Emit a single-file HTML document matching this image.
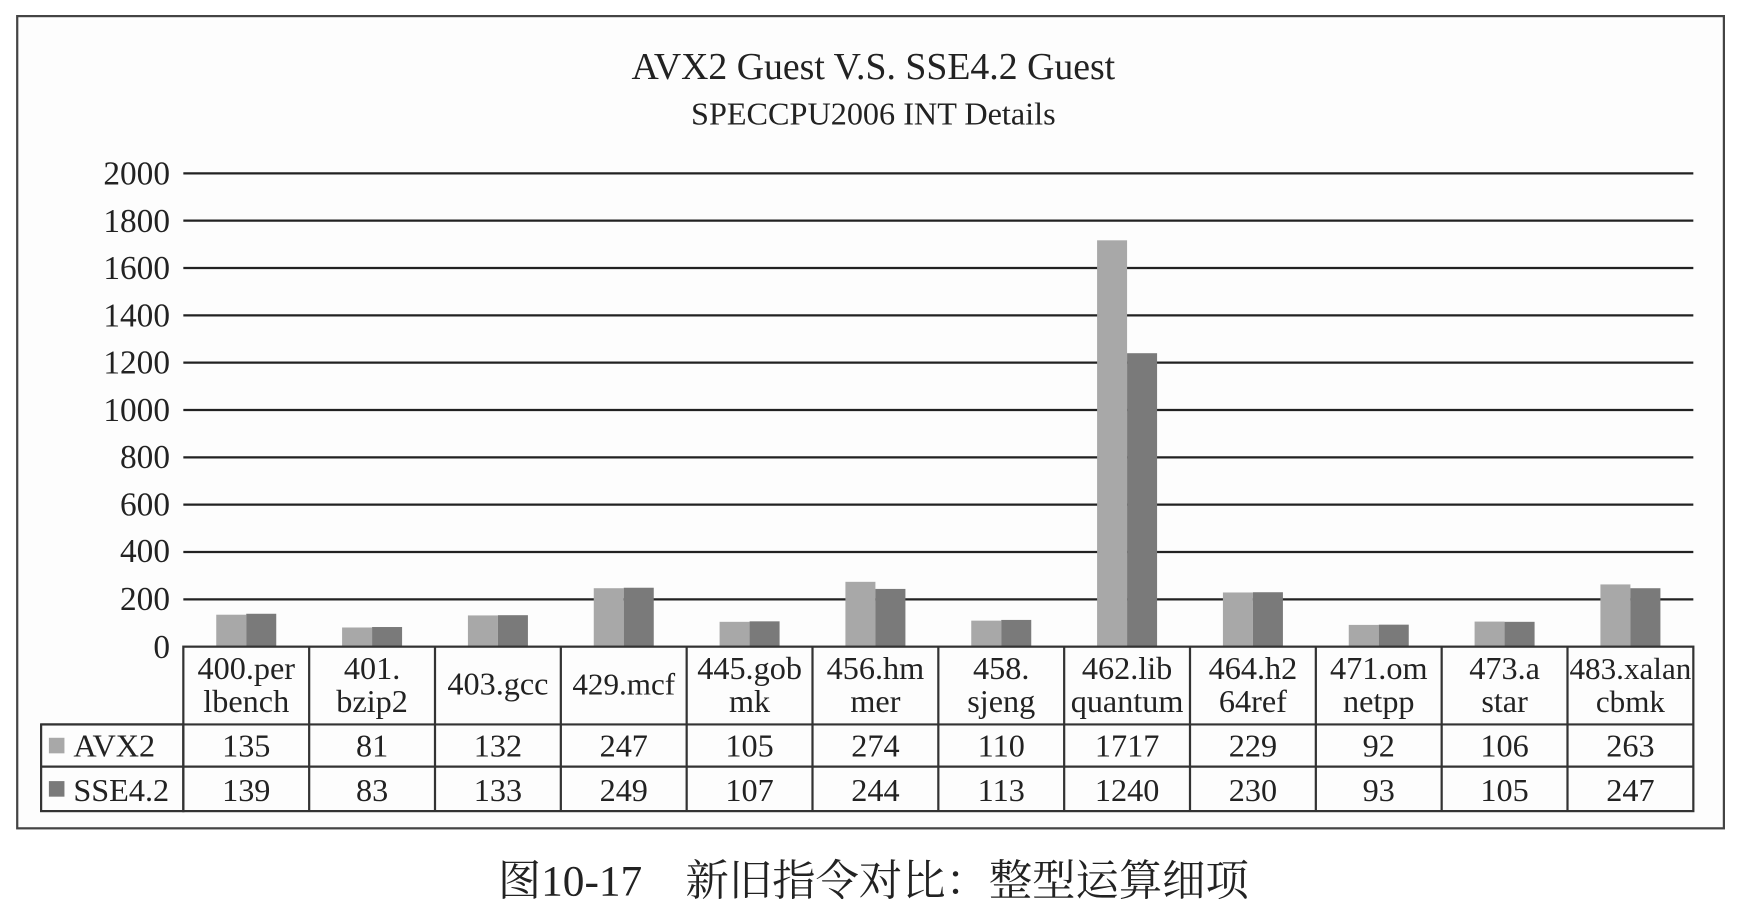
<!DOCTYPE html>
<html><head><meta charset="utf-8"><style>html,body{margin:0;padding:0;background:#fff}svg{display:block}</style></head>
<body>
<svg width="1740" height="924" viewBox="0 0 1566 831.6" preserveAspectRatio="none" xmlns="http://www.w3.org/2000/svg" font-family="'Liberation Serif','Noto Serif CJK SC',serif" fill="#222">
<rect x="0" y="0" width="1566" height="832" fill="#fff"/>
<rect x="15.5" y="14.5" width="1536" height="731" fill="#fdfdfd" stroke="#444" stroke-width="2"/>
<text x="786" y="71" font-size="34" text-anchor="middle">AVX2 Guest V.S. SSE4.2 Guest</text>
<text x="786" y="112" font-size="29" text-anchor="middle">SPECCPU2006 INT Details</text>
<g stroke="#222" stroke-width="2">
<line x1="165" x2="1524" y1="156" y2="156"/><line x1="165" x2="1524" y1="198.6" y2="198.6"/>
<line x1="165" x2="1524" y1="241.2" y2="241.2"/><line x1="165" x2="1524" y1="283.8" y2="283.8"/>
<line x1="165" x2="1524" y1="326.4" y2="326.4"/><line x1="165" x2="1524" y1="369" y2="369"/>
<line x1="165" x2="1524" y1="411.6" y2="411.6"/><line x1="165" x2="1524" y1="454.2" y2="454.2"/>
<line x1="165" x2="1524" y1="496.8" y2="496.8"/><line x1="165" x2="1524" y1="539.4" y2="539.4"/>
</g>
<g font-size="30" text-anchor="end">
<text x="153" y="166">2000</text><text x="153" y="209">1800</text><text x="153" y="251">1600</text>
<text x="153" y="294">1400</text><text x="153" y="336">1200</text><text x="153" y="379">1000</text>
<text x="153" y="421">800</text><text x="153" y="464">600</text><text x="153" y="506">400</text>
<text x="153" y="549">200</text><text x="153" y="592">0</text>
</g>
<g id="bars"></g>
<g stroke="#333" stroke-width="2" fill="none">
<rect x="165" y="582" width="1359" height="148"/>
<rect x="37" y="652" width="128" height="78"/>
<line x1="37" x2="1524" y1="652" y2="652"/><line x1="37" x2="1524" y1="690" y2="690"/>
</g>
<g id="cols"></g>
<rect x="44" y="664" width="14" height="14" fill="#a8a8a8"/>
<rect x="44" y="703" width="14" height="14" fill="#7a7a7a"/>
<text x="66" y="681" font-size="29">AVX2</text>
<text x="66" y="721" font-size="29">SSE4.2</text>
<text x="786" y="806" font-size="39" text-anchor="middle">图10-17　新旧指令对比：整型运算细项</text>
<script>
var names=[["400.per","lbench"],["401.","bzip2"],["403.gcc"],["429.mcf"],["445.gob","mk"],["456.hm","mer"],["458.","sjeng"],["462.lib","quantum"],["464.h2","64ref"],["471.om","netpp"],["473.a","star"],["483.xalan","cbmk"]];
var a=[135,81,132,247,105,274,110,1717,229,92,106,263],s=[139,83,133,249,107,244,113,1240,230,93,105,247];
var ns="http://www.w3.org/2000/svg",w=113.25,B=document.getElementById("bars"),C=document.getElementById("cols");
function el(p,t,at,tx){var e=document.createElementNS(ns,t);for(var k in at)e.setAttribute(k,at[k]);if(tx)e.textContent=tx;p.appendChild(e);return e;}
for(var i=0;i<12;i++){var cx=165+w*i+w/2;
var ha=a[i]*0.213,hs=s[i]*0.213;
el(B,"rect",{x:cx-27,y:582-ha,width:27,height:ha,fill:"#a8a8a8"});
el(B,"rect",{x:cx,y:582-hs,width:27,height:hs,fill:"#7a7a7a"});
if(i>0)el(C,"line",{x1:165+w*i,x2:165+w*i,y1:582,y2:730,stroke:"#333","stroke-width":2});
var n=names[i];
var fs=(i==11)?28:29;
if(n.length==2){el(C,"text",{x:cx,y:611,"font-size":fs,"text-anchor":"middle"},n[0]);el(C,"text",{x:cx,y:641,"font-size":fs,"text-anchor":"middle"},n[1]);}
else el(C,"text",{x:cx,y:625,"font-size":(i==3?28:29),"text-anchor":"middle"},n[0]);
el(C,"text",{x:cx,y:681,"font-size":29,"text-anchor":"middle"},String(a[i]));
el(C,"text",{x:cx,y:721,"font-size":29,"text-anchor":"middle"},String(s[i]));}
</script>
</svg>
</body></html>
